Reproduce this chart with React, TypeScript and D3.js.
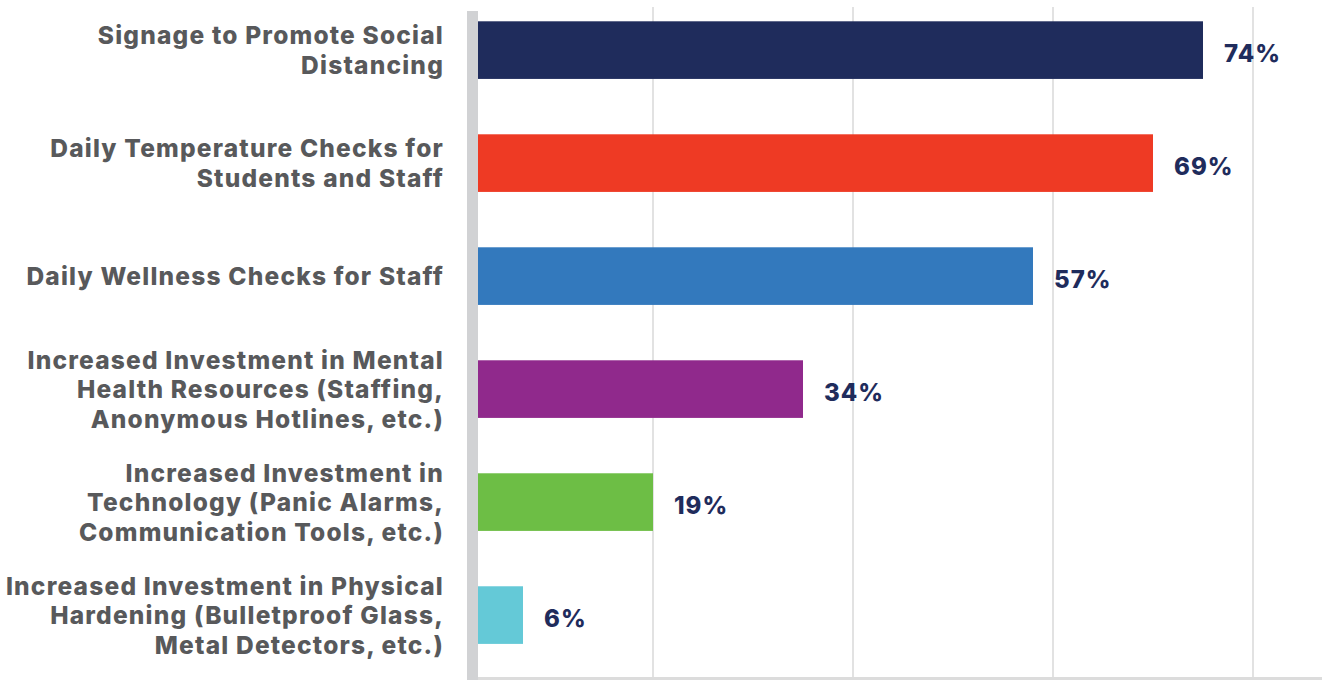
import React from "react";
import * as d3 from "d3";

const categories: string[] = [
  "Signage to Promote Social\nDistancing",
  "Daily Temperature Checks for\nStudents and Staff",
  "Daily Wellness Checks for Staff",
  "Increased Investment in Mental\nHealth Resources (Staffing,\nAnonymous Hotlines, etc.)",
  "Increased Investment in\nTechnology (Panic Alarms,\nCommunication Tools, etc.)",
  "Increased Investment in Physical\nHardening (Bulletproof Glass,\nMetal Detectors, etc.)",
];
const values: number[] = [74, 69, 57, 34, 19, 6];
const colors: string[] = ["#1f2c5c", "#ee3a24", "#3379bd", "#90298c", "#6dbe45", "#64c9d7"];
const gridValues: number[] = [19, 39, 59, 79];

const W = 1322;
const H = 680;

export default function App() {
  const x = d3.scaleLinear().domain([0, 86]).range([463, 1323]);
  const y = d3
    .scaleBand<string>()
    .domain(categories)
    .range([10, 655.2])
    .paddingInner(0.49)
    .paddingOuter(0.1);
  const axisLeft = 467;
  const axisRight = 478;
  const labelFont = "Inter, 'Open Sans', sans-serif";
  const valueFont = "Inter, 'Open Sans', sans-serif";
  const lineH = 29.5;

  return (
    <svg
      width={W}
      height={H}
      style={{ position: "absolute", left: 0, top: 0, background: "#fff" }}
    >
      {gridValues.map((g) => (
        <line
          key={g}
          x1={x(g)}
          x2={x(g)}
          y1={7}
          y2={H}
          stroke="#e2e2e2"
          strokeWidth={2}
        />
      ))}
      <rect x={axisRight} y={677} width={W - axisRight} height={3} fill="#dcdcdc" />
      {categories.map((c, i) => (
        <rect
          key={c}
          x={axisRight}
          y={y(c)}
          width={x(values[i]) - axisRight}
          height={y.bandwidth()}
          fill={colors[i]}
        />
      ))}
      <rect x={axisLeft} y={11} width={axisRight - axisLeft} height={H - 11} fill="#d1d2d4" />
      {categories.map((c, i) => {
        const lines = c.split("\n");
        const cy = (y(c) as number) + y.bandwidth() / 2;
        const top = cy - ((lines.length - 1) * lineH) / 2;
        return (
          <text
            key={c}
            x={444}
            textAnchor="end"
            fontFamily={labelFont}
            fontWeight={800}
            fontSize={24.5}
            letterSpacing={1.2}
            fill="#58595b"
          >
            {lines.map((l, j) => (
              <tspan key={j} x={444} y={top + j * lineH} dominantBaseline="central">
                {l}
              </tspan>
            ))}
          </text>
        );
      })}
      {categories.map((c, i) => (
        <text
          key={c}
          x={x(values[i]) + 21}
          y={(y(c) as number) + y.bandwidth() / 2 + 3}
          dominantBaseline="central"
          fontFamily={valueFont}
          fontWeight={800}
          fontSize={24}
          letterSpacing={1}
          fill="#1f2c5c"
        >
          {values[i]}%
        </text>
      ))}
    </svg>
  );
}
